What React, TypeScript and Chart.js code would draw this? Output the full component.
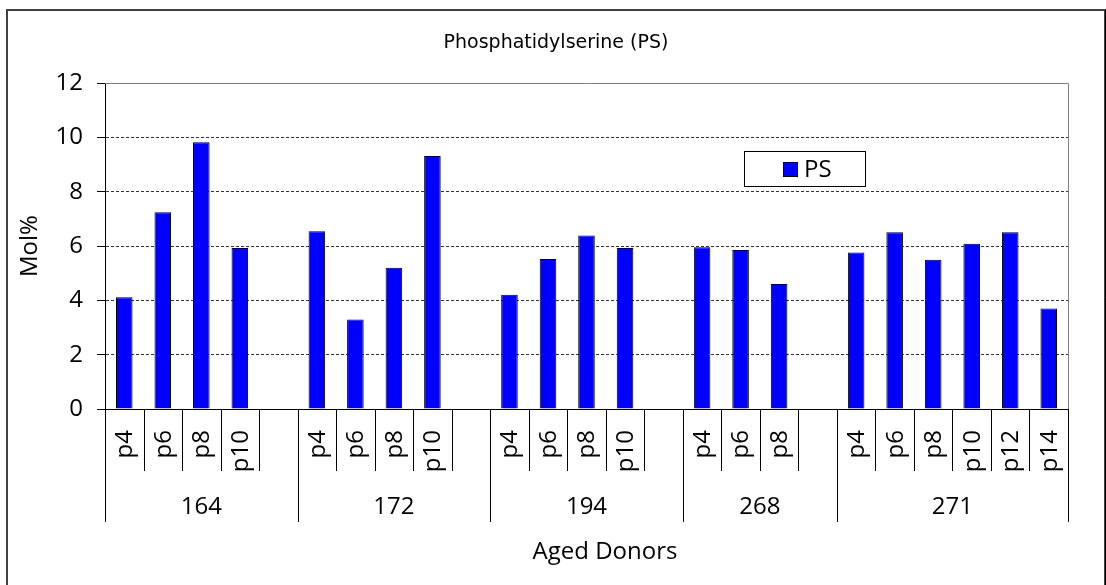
import React, { useEffect, useRef } from 'react';
import { Chart, registerables } from 'chart.js';

Chart.register(...registerables);

// ---- data ----
const donorGroups = ['164', '172', '194', '268', '271'];
const passages164 = ['p4', 'p6', 'p8', 'p10'];
const passages172 = ['p4', 'p6', 'p8', 'p10'];
const passages194 = ['p4', 'p6', 'p8', 'p10'];
const passages268 = ['p4', 'p6', 'p8'];
const passages271 = ['p4', 'p6', 'p8', 'p10', 'p12', 'p14'];

const ps164 = [4.11, 7.24, 9.82, 5.93];
const ps172 = [6.54, 3.29, 5.2, 9.31];
const ps194 = [4.21, 5.52, 6.39, 5.93];
const ps268 = [5.95, 5.85, 4.6];
const ps271 = [5.76, 6.51, 5.49, 6.08, 6.51, 3.7];

const yMin = 0;
const yMax = 12;
const yStep = 2;

const chartTitle = 'Phosphatidylserine (PS)';
const yAxisTitle = 'Mol%';
const xAxisTitle = 'Aged Donors';
const seriesName = 'PS';

const passagesByGroup = [passages164, passages172, passages194, passages268, passages271];
const valuesByGroup = [ps164, ps172, ps194, ps268, ps271];

// Build the flat category list (an empty slot separates groups)
type Slot = { group: number; label: string; empty: boolean };
const slots: Slot[] = [];
const flatValues: (number | null)[] = [];
donorGroups.forEach((g, gi) => {
  passagesByGroup[gi].forEach((p, pi) => {
    slots.push({ group: gi, label: p, empty: false });
    flatValues.push(valuesByGroup[gi][pi]);
  });
  if (gi < donorGroups.length - 1) {
    slots.push({ group: gi, label: '', empty: true });
    flatValues.push(null);
  }
});
const flatLabels = slots.map((s, i) => (s.empty ? ' '.repeat(i) : donorGroups[s.group] + ' ' + s.label));

const AXIS_FONT = '"Open Sans", "DejaVu Sans", sans-serif';

const decorPlugin = {
  id: 'decor',
  afterDraw(chart: any) {
    const ctx = chart.ctx as CanvasRenderingContext2D;
    const area = chart.chartArea;
    const xs = chart.scales.x;
    const n = slots.length;
    const slotW = (xs.right - xs.left) / n;

    ctx.save();
    // outer frame
    ctx.strokeStyle = '#404040';
    ctx.lineWidth = 2;
    ctx.strokeRect(7, 10, 1098, 600);
    ctx.strokeStyle = '#000';
    ctx.lineWidth = 1;
    ctx.beginPath();
    ctx.moveTo(1105.5, 10);
    ctx.lineTo(1105.5, 585);
    ctx.stroke();

    // plot border top & right
    ctx.strokeStyle = '#808080';
    ctx.lineWidth = 1;
    ctx.beginPath();
    ctx.moveTo(area.left, Math.round(area.top) + 0.5);
    ctx.lineTo(Math.round(area.right) + 0.5, Math.round(area.top) + 0.5);
    ctx.lineTo(Math.round(area.right) + 0.5, area.bottom);
    ctx.stroke();

    // x axis: separators and labels
    const base = area.bottom;
    ctx.strokeStyle = '#000';
    ctx.lineWidth = 1;
    // group boundaries
    let gStart = 0;
    const groupSpans: { start: number; end: number }[] = [];
    for (let i = 0; i <= n; i++) {
      if (i === n || (i > 0 && slots[i].group !== slots[i - 1].group)) {
        groupSpans.push({ start: gStart, end: i });
        gStart = i;
      }
    }
    groupSpans.forEach((sp) => {
      const x0 = xs.getPixelForValue(sp.start) - slotW / 2;
      const x1 = xs.getPixelForValue(sp.end - 1) + slotW / 2;
      [x0, x1].forEach((x) => {
        const px = Math.round(x) + 0.5;
        ctx.beginPath();
        ctx.moveTo(px, base);
        ctx.lineTo(px, base + 113);
        ctx.stroke();
      });
    });
    // inner separators + passage labels
    ctx.fillStyle = '#000';
    ctx.font = `24px ${AXIS_FONT}`;
    slots.forEach((s, i) => {
      if (s.empty) return;
      const cx = xs.getPixelForValue(i);
      const right = cx + slotW / 2;
      const isGroupEnd = i === n - 1;
      if (!isGroupEnd) {
        const px = Math.round(right) + 0.5;
        ctx.beginPath();
        ctx.moveTo(px, base);
        ctx.lineTo(px, base + 62);
        ctx.stroke();
      }
      ctx.save();
      ctx.translate(cx + 1, base + 21);
      ctx.rotate(-Math.PI / 2);
      ctx.textAlign = 'right';
      ctx.textBaseline = 'middle';
      ctx.fillText(s.label, 0, 0);
      ctx.restore();
    });
    // group labels
    ctx.textAlign = 'center';
    ctx.textBaseline = 'middle';
    groupSpans.forEach((sp, gi) => {
      const x0 = xs.getPixelForValue(sp.start) - slotW / 2;
      const x1 = xs.getPixelForValue(sp.end - 1) + slotW / 2;
      ctx.fillText(donorGroups[gi], (x0 + x1) / 2, base + 98);
    });

    // x axis title
    ctx.fillText(xAxisTitle, 605, 552);

    // chart title
    ctx.font = '19px "DejaVu Sans", sans-serif';
    ctx.fillText(chartTitle, 556, 43);

    // legend
    const ds = chart.data.datasets[0];
    ctx.fillStyle = '#fff';
    ctx.fillRect(744, 151, 121, 35);
    ctx.strokeStyle = '#000';
    ctx.strokeRect(744.5, 151.5, 121, 35);
    ctx.fillStyle = ds.backgroundColor;
    ctx.fillRect(783.5, 162.5, 14, 14);
    ctx.strokeRect(783.5, 162.5, 14, 14);
    ctx.fillStyle = '#000';
    ctx.font = `24px ${AXIS_FONT}`;
    ctx.textAlign = 'left';
    ctx.fillText(ds.label, 804, 170);

    ctx.restore();
  },
};

export default function App() {
  const canvasRef = useRef<HTMLCanvasElement | null>(null);

  useEffect(() => {
    if (!canvasRef.current) return;
    const chart = new Chart(canvasRef.current, {
      type: 'bar',
      data: {
        labels: flatLabels,
        datasets: [
          {
            label: seriesName,
            data: flatValues as any,
            backgroundColor: '#0000FF',
            borderColor: '#000000',
            borderWidth: 1,
            barPercentage: 0.43,
            categoryPercentage: 1.0,
          },
        ],
      },
      options: {
        animation: false,
        responsive: false,
        devicePixelRatio: 1,
        layout: { padding: { top: 83, right: 38, bottom: 0, left: 0 } },
        plugins: {
          legend: { display: false },
          title: { display: false },
          tooltip: { enabled: false },
        },
        scales: {
          x: {
            type: 'category',
            offset: true,
            grid: { display: false },
            border: { display: true, color: '#000', width: 1 },
            ticks: { display: false },
            afterFit: (scale: any) => {
              scale.height = 176;
            },
          },
          y: {
            min: yMin,
            max: yMax,
            ticks: {
              stepSize: yStep,
              color: '#000',
              padding: 14,
              font: { family: AXIS_FONT, size: 24 },
            },
            grid: {
              color: (c: any) =>
                c.tick && (c.tick.value === yMin || c.tick.value === yMax) ? 'rgba(0,0,0,0)' : '#333',
              tickColor: '#000',
              tickLength: 8,
              lineWidth: 1,
            },
            border: { display: true, color: '#000', width: 1, dash: [3, 2] },
            title: {
              display: true,
              text: yAxisTitle,
              color: '#000',
              font: { family: AXIS_FONT, size: 24 },
              padding: { top: 16, bottom: 0 },
            },
            afterFit: (scale: any) => {
              scale.width = 105;
            },
          },
        },
      },
      plugins: [decorPlugin],
    });
    return () => chart.destroy();
  }, []);

  return (
    <div style={{ position: 'absolute', left: 0, top: 0, width: 1106, height: 585, background: '#fff' }}>
      <canvas ref={canvasRef} width={1106} height={585} style={{ width: 1106, height: 585, display: 'block' }} />
    </div>
  );
}
